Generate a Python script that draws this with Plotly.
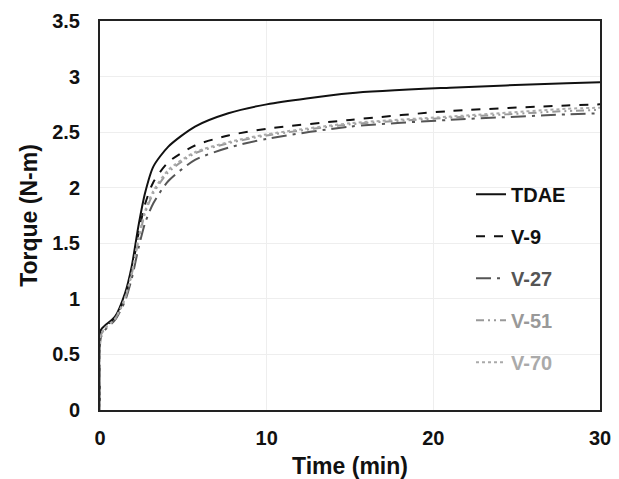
import plotly.graph_objects as go

time_min = [0, 0.05, 0.3, 0.9, 1.5, 1.9, 2.3, 2.7, 3.2, 4.1, 5.7, 7.7, 10, 15, 21, 28, 30]
tdae = [0, 0.72, 0.76, 0.84, 1.05, 1.29, 1.65, 1.95, 2.19, 2.37, 2.55, 2.67, 2.75, 2.85, 2.90, 2.94, 2.95]
v9   = [0, 0.70, 0.75, 0.83, 1.02, 1.25, 1.58, 1.85, 2.05, 2.23, 2.38, 2.47, 2.53, 2.61, 2.69, 2.74, 2.75]
v27  = [0, 0.65, 0.72, 0.81, 0.98, 1.18, 1.45, 1.68, 1.86, 2.06, 2.25, 2.36, 2.44, 2.55, 2.61, 2.66, 2.67]
v51  = [0, 0.67, 0.73, 0.82, 1.00, 1.22, 1.52, 1.77, 1.95, 2.14, 2.31, 2.40, 2.47, 2.57, 2.63, 2.69, 2.70]
v70  = [0, 0.68, 0.74, 0.82, 1.01, 1.23, 1.54, 1.79, 1.97, 2.16, 2.32, 2.41, 2.48, 2.58, 2.64, 2.71, 2.72]

x_ticks = [0, 10, 20, 30]
y_ticks = [0, 0.5, 1, 1.5, 2, 2.5, 3, 3.5]

series = [
    ("TDAE", tdae, "#111111", "solid"),
    ("V-9", v9, "#111111", "dash"),
    ("V-27", v27, "#555555", "longdashdot"),
    ("V-51", v51, "#999999", "8px,4px,2px,4px,2px,4px"),
    ("V-70", v70, "#aaaaaa", "dot"),
]

fig = go.Figure()
for i, (name, vals, color, dash) in enumerate(series):
    fig.add_trace(go.Scatter(
        x=time_min, y=vals, mode="lines",
        name=f"<span style='color:{color}'><b>{name}</b></span>",
        legendgroup=f"g{i}",
        line=dict(color=color, width=2, dash=dash, shape="spline", smoothing=0.7),
    ))

fig.update_layout(
    width=619, height=479,
    margin=dict(l=100, r=19, t=21, b=69),
    paper_bgcolor="white", plot_bgcolor="white",
    font=dict(family="Liberation Sans, Arial, sans-serif", size=20, color="#111"),
    showlegend=True,
    legend=dict(x=0.742, y=0.605, xanchor="left", yanchor="top",
                bgcolor="rgba(0,0,0,0)", tracegroupgap=13,
                font=dict(size=20)),
    xaxis=dict(range=[0, 30], tickvals=x_ticks,
               ticktext=[f"<b>{t}</b>" for t in x_ticks],
               showline=True, mirror=True, linecolor="#222", linewidth=2,
               showgrid=True, gridcolor="#eeeeee", gridwidth=1,
               zeroline=False, ticks="", ticklabelstandoff=9, automargin=False,
               title=dict(text="<b>Time (min)</b>", font=dict(size=23), standoff=13)),
    yaxis=dict(range=[0, 3.5], tickvals=y_ticks,
               ticktext=[f"<b>{t:g}</b>" for t in y_ticks],
               showline=True, mirror=True, linecolor="#222", linewidth=2,
               showgrid=True, gridcolor="#eeeeee", gridwidth=1,
               zeroline=False, ticks="", ticklabelstandoff=14, automargin=False,
               title=dict(text="<b>Torque (N-m)</b>", font=dict(size=23), standoff=8)),
)

fig.write_html("out.html")
